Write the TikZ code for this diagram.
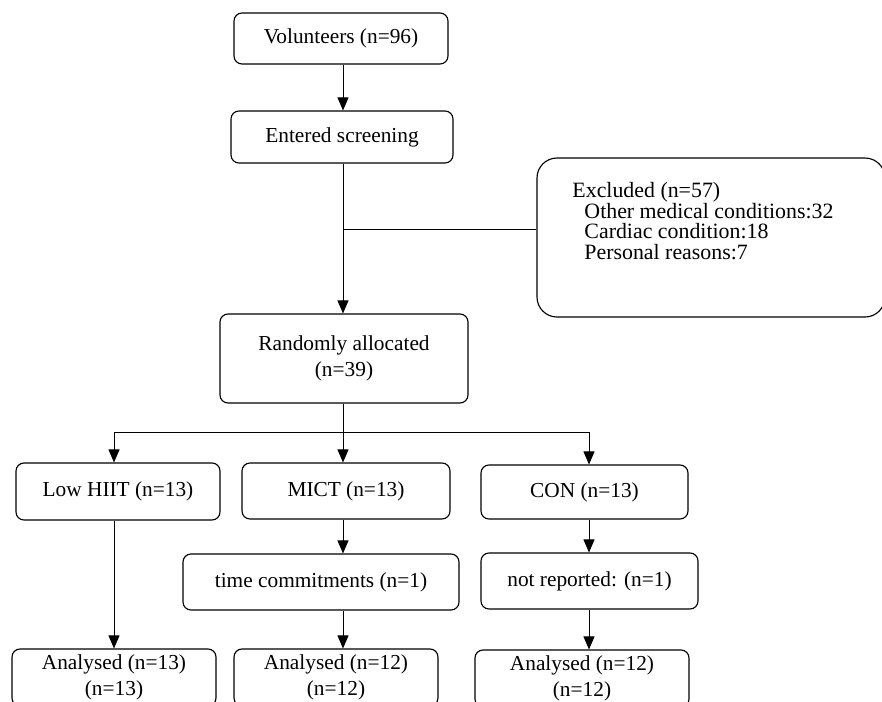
\documentclass[tikz,border=0pt]{standalone}
\usepackage{fontspec}
\setmainfont{Liberation Serif}
\usetikzlibrary{arrows.meta}
\newdimen\px \px=0.75pt

\begin{document}
\begin{tikzpicture}[x=0.75pt, y=-0.75pt, line width=0.7pt,
    font=\fontsize{16}{19}\selectfont,
    box/.style={draw, line width=0.85pt, rounded corners=8\px, inner sep=0pt, align=center},
    arr/.style={-{Triangle[length=9.75pt,width=8.25pt]}}]
    \useasboundingbox (0,0) rectangle (882,701);
    \clip (0,0) rectangle (882,701);

    \node[box, minimum width=214\px, minimum height=51\px] (vol) at (341,38.5) {Volunteers (n=96)};
    \node[box, minimum width=222\px, minimum height=52\px] (scr) at (342,137) {Entered screening};
    \node[box, rounded corners=20\px, minimum width=348\px, minimum height=159\px] (excl) at (711,237.5) {};
    \node[anchor=north west, inner sep=0pt, align=left, font=\fontsize{16.4}{15.5}\selectfont] (exclt) at (572,182)
        {Excluded (n=57)\\ \hspace*{12\px}Other medical conditions:32\\ \hspace*{12\px}Cardiac condition:18\\ \hspace*{12\px}Personal reasons:7};
    \node[box, minimum width=248\px, minimum height=89\px, font=\fontsize{16}{20}\selectfont] (rand) at (344,358.5) {Randomly allocated\\(n=39)};

    \node[box, minimum width=204\px, minimum height=57\px] (hiit) at (118,491.5) {Low HIIT (n=13)};
    \node[box, minimum width=208\px, minimum height=56\px] (mict) at (346,491) {MICT (n=13)};
    \node[box, minimum width=207\px, minimum height=54\px] (con) at (584.5,492) {CON (n=13)};
    \node[box, minimum width=276\px, minimum height=56\px] (tc) at (321,582) {time commitments (n=1)};
    \node[box, minimum width=217\px, minimum height=56\px] (nr) at (589.5,581) {not reported: (n=1)};
    \node[box, minimum width=204\px, minimum height=57\px] (an1) at (114,677.5) {Analysed (n=13)\\(n=13)};
    \node[box, minimum width=204\px, minimum height=57\px] (an2) at (336,677.5) {Analysed (n=12)\\(n=12)};
    \node[box, minimum width=214\px, minimum height=57\px] (an3) at (582,678.5) {Analysed (n=12)\\(n=12)};

    \coordinate (split) at (343,432);
    \coordinate (bl) at (114,432);
    \coordinate (br) at (589,432);
    \coordinate (ej) at (343,229);

    \draw[arr] (vol.south -| split) -- (split |- scr.north);
    \draw[arr] (scr.south -| split) -- (split |- rand.north);
    \draw (ej) -- (ej -| excl.west);
    \draw (rand.south -| split) -- (split);
    \draw (bl) -- (br);

    \draw[arr] (bl) -- (bl |- hiit.north);
    \draw[arr] (split) -- (split |- mict.north);
    \draw[arr] (br) -- (br |- con.north);

    \draw[arr] (hiit.south -| bl) -- (bl |- an1.north);
    \draw[arr] (mict.south -| split) -- (split |- tc.north);
    \draw[arr] (tc.south -| split) -- (split |- an2.north);
    \draw[arr] (con.south -| br) -- (br |- nr.north);
    \draw[arr] (nr.south -| br) -- (br |- an3.north);
\end{tikzpicture}
\end{document}
